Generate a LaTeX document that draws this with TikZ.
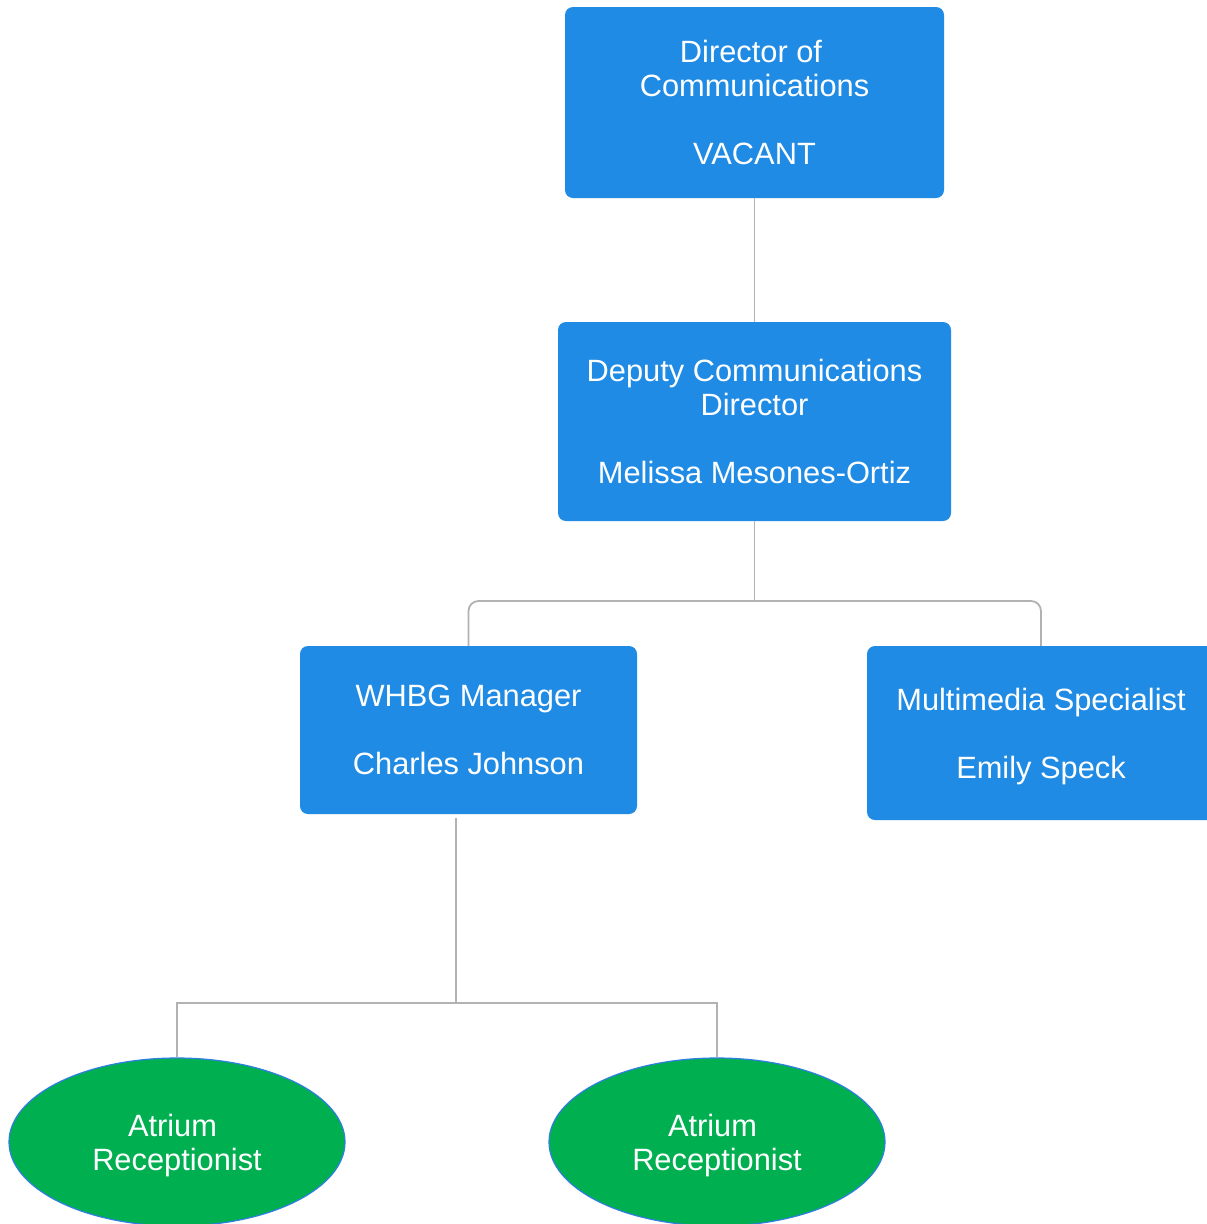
\documentclass[tikz,border=0pt]{standalone}
\usepackage{fontspec}
\setmainfont{Liberation Sans}
\usetikzlibrary{shapes.geometric}
\definecolor{boxblue}{HTML}{1F8BE4}
\definecolor{ellgreen}{HTML}{00AF50}
\definecolor{ellline}{HTML}{2E7FE0}
\definecolor{conngray}{HTML}{B2B2B2}
\tikzset{
  posbox/.style={rectangle, rounded corners=8pt, fill=boxblue, text=white, align=center, inner sep=0pt, font=\fontsize{30.8}{34}\selectfont},
  recep/.style={ellipse, fill=ellgreen, draw=ellline, line width=1.2pt, text=white, align=center, inner sep=0pt, minimum width=336pt, minimum height=168pt, font=\fontsize{30.8}{34}\selectfont},
  conn/.style={draw=conngray, line width=1.8pt}
}
\begin{document}
\begin{tikzpicture}[x=1pt,y=-1pt]
\useasboundingbox (0,0) rectangle (1207,1224);
\fill[white] (0,0) rectangle (1207,1224);
\node[posbox, minimum width=379pt, minimum height=191pt] (dir) at (754.5,102.5) {Director of\kern7pt\\Communications\\[34pt]VACANT};
\node[posbox, minimum width=393pt, minimum height=199pt] (dep) at (754.5,421.5) {Deputy Communications\\Director\\[34pt]Melissa Mesones-Ortiz};
\node[posbox, minimum width=337pt, minimum height=168pt] (whbg) at (468.5,730) {WHBG Manager\\[34pt]Charles Johnson};
\node[posbox, minimum width=348pt, minimum height=174pt] (mm) at (1041,733) {\rule{0pt}{29pt}Multimedia Specialist\\[34pt]Emily Speck};
\node[recep] (r1) at (177,1142) {\rule{0pt}{30pt}Atrium\kern9pt\\Receptionist};
\node[recep] (r2) at (717,1142) {\rule{0pt}{30pt}Atrium\kern9pt\\Receptionist};
\coordinate (bus1) at (754.5,601);
\coordinate (bus2) at (456,1003);
\draw[conn] (dir.south) -- (dep.north);
\draw[conn] (dep.south) -- (bus1);
\draw[conn, rounded corners=10pt] (whbg.north) |- (bus1) -| (mm.north);
\draw[conn] ([yshift=-4pt]whbg.south -| bus2) -- (bus2);
\draw[conn] (r1.north) |- (bus2) -| (r2.north);
\end{tikzpicture}
\end{document}
